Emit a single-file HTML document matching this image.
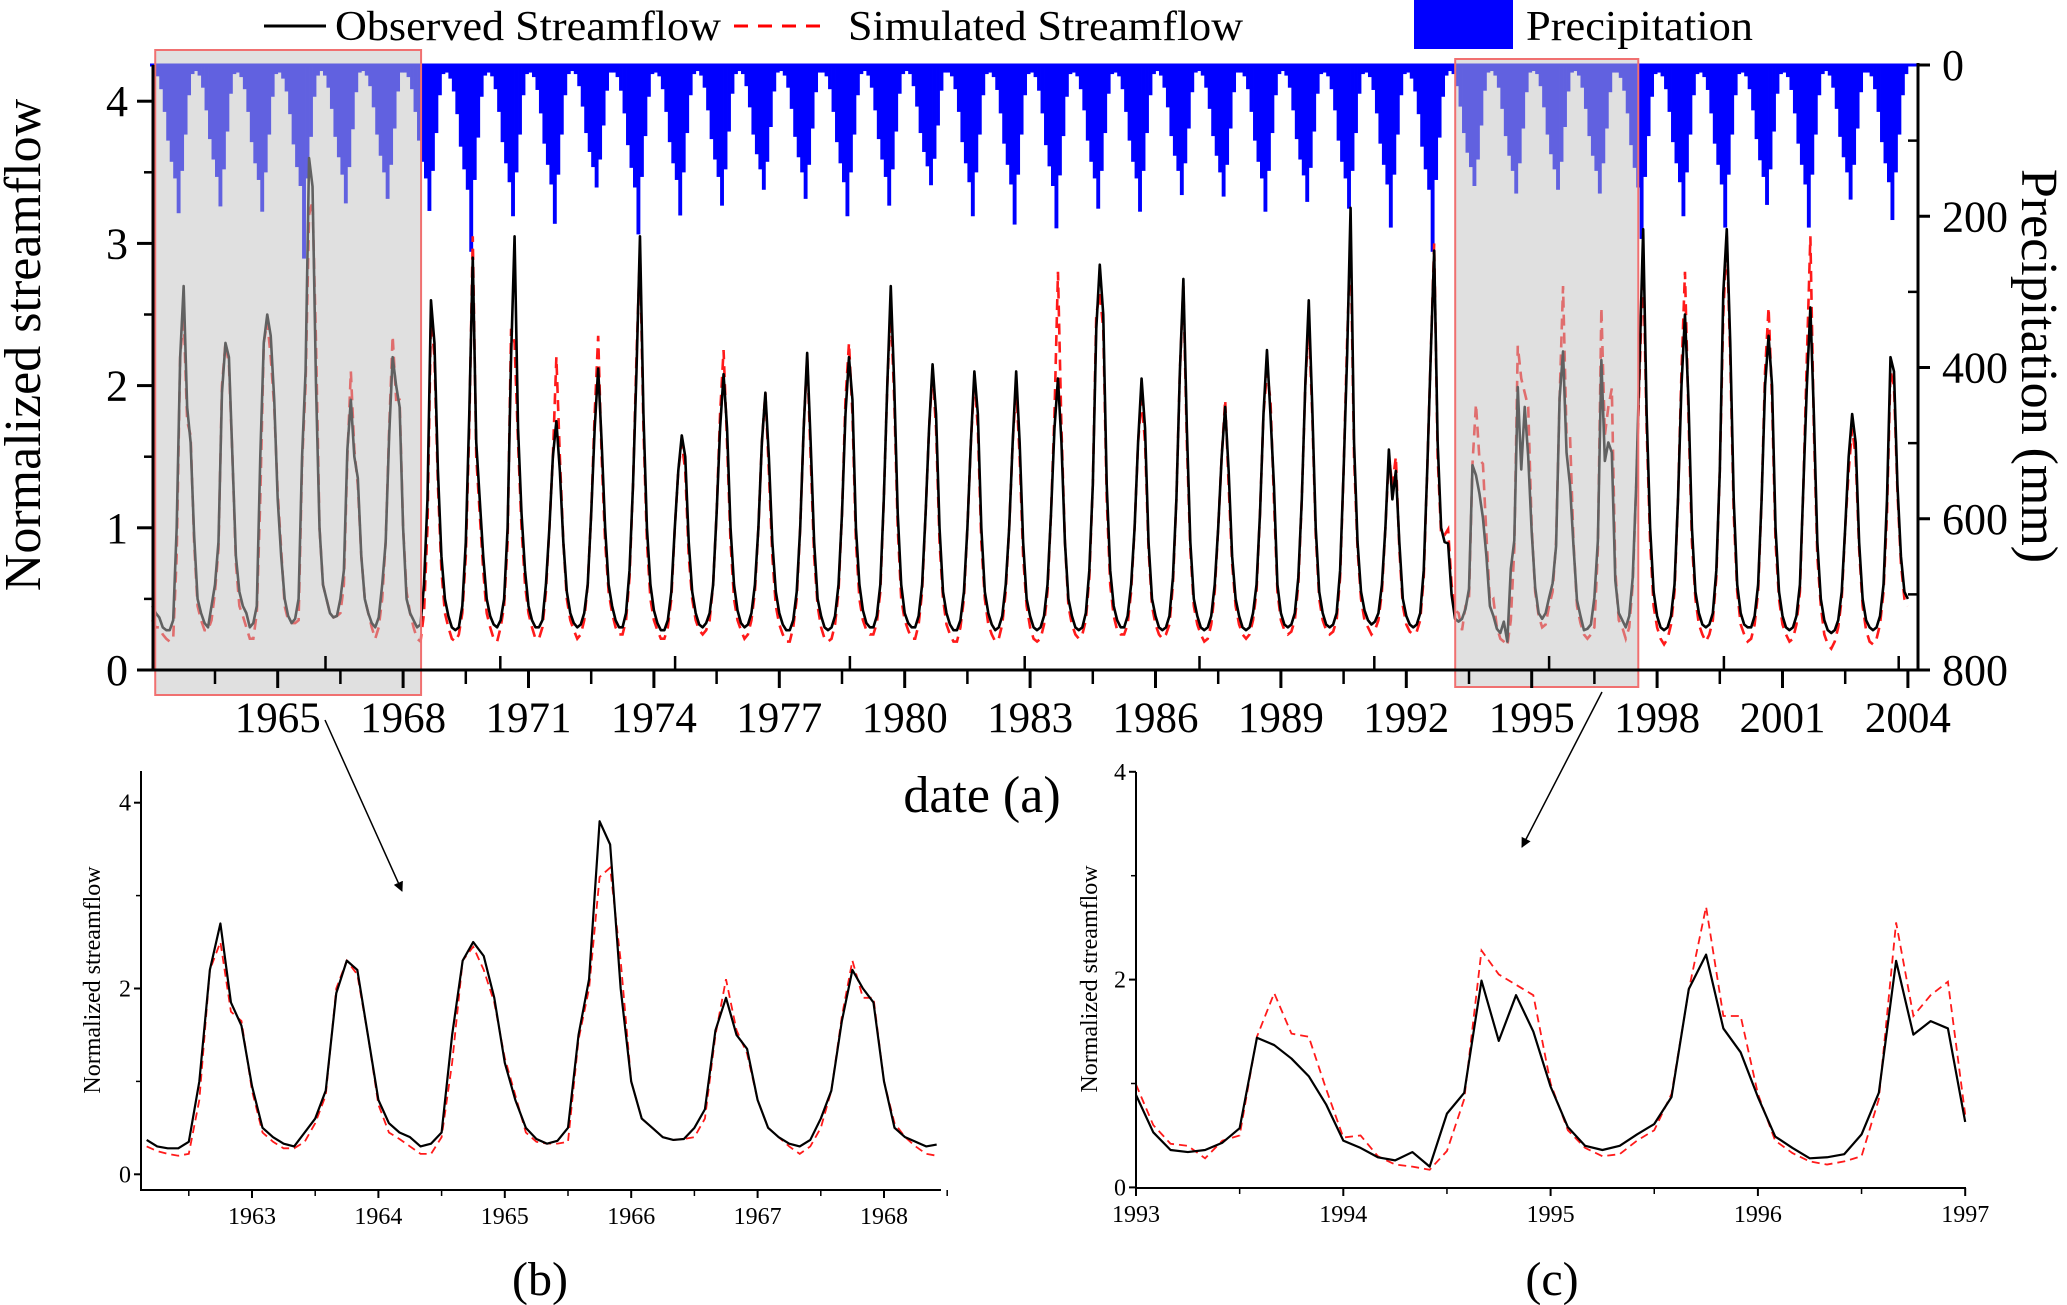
<!DOCTYPE html>
<html><head><meta charset="utf-8">
<style>
html,body{margin:0;padding:0;background:#fff;}
svg{display:block;font-family:"Liberation Serif","DejaVu Serif",serif;}
</style></head>
<body>
<svg id="chart" xmlns="http://www.w3.org/2000/svg" width="2067" height="1305" viewBox="0 0 2067 1305">
  <rect x="0" y="0" width="2067" height="1305" fill="#fff"/>
  <g id="legend">
    <g>
      <line x1="264" y1="26" x2="326" y2="26" stroke="#000" stroke-width="3"/>
      <text x="335" y="40" font-size="42" textLength="386" lengthAdjust="spacingAndGlyphs">Observed Streamflow</text>
    </g>
    <g>
      <line x1="734" y1="26" x2="826" y2="26" stroke="#f00" stroke-width="3" stroke-dasharray="14,10"/>
      <text x="848" y="40" font-size="42" textLength="395" lengthAdjust="spacingAndGlyphs">Simulated Streamflow</text>
    </g>
    <g>
      <rect x="1414" y="0" width="99" height="49" fill="#0000ff"/>
      <text x="1526" y="40" font-size="42" textLength="227" lengthAdjust="spacingAndGlyphs">Precipitation</text>
    </g>
  </g>
  <g id="main"></g>
  <g id="insetB"></g>
  <g id="insetC"></g>
  <text x="982" y="812" font-size="52" text-anchor="middle">date (a)</text>
  <text x="540" y="1295" font-size="48" text-anchor="middle">(b)</text>
  <text x="1552" y="1295" font-size="48" text-anchor="middle">(c)</text>
  <text transform="translate(40,345) rotate(-90)" font-size="52" text-anchor="middle">Normalized streamflow</text>
  <text transform="translate(2022,366) rotate(90)" font-size="52" text-anchor="middle">Precipitation (mm)</text>
  <defs>
    <marker id="arrowhead" markerWidth="10" markerHeight="10" refX="9" refY="5" orient="auto" markerUnits="userSpaceOnUse" viewBox="0 0 10 10">
      <path d="M0,0 L10,5 L0,10 z" fill="#000"/>
    </marker>
  </defs>
  <line x1="325" y1="720" x2="402" y2="891" stroke="#000" stroke-width="1.5" marker-end="url(#arrowhead)"/>
  <line x1="1602" y1="692" x2="1522" y2="847" stroke="#000" stroke-width="1.5" marker-end="url(#arrowhead)"/>
</svg>
<script>
// ===== Main chart data (monthly, Jan 1962 .. Jan 2004) =====
const obsMain = [
.45,.4,.37,.3,.28,.28,.35,1.0,2.2,2.7,1.85,1.6,
.95,.5,.4,.33,.3,.45,.6,.9,1.95,2.3,2.2,1.5,
.8,.55,.45,.4,.3,.33,.45,1.5,2.3,2.5,2.35,1.9,
1.2,.8,.5,.38,.33,.36,.5,1.5,2.1,3.6,3.4,2.0,
1.0,.6,.5,.4,.37,.38,.5,.7,1.55,1.9,1.5,1.35,
.8,.5,.4,.33,.3,.37,.6,.9,1.65,2.2,2.0,1.85,
1.0,.5,.4,.35,.3,.32,.6,1.2,2.6,2.3,1.4,.8,
.5,.38,.3,.28,.3,.45,.9,1.8,2.9,1.6,1.2,.8,
.5,.38,.32,.3,.35,.5,1.0,2.2,3.05,1.7,1.1,.7,
.45,.35,.3,.3,.35,.6,1.0,1.5,1.75,1.4,.9,.55,
.4,.33,.3,.32,.4,.6,1.1,1.7,2.12,1.6,1.0,.6,
.45,.35,.3,.3,.4,.7,1.3,2.1,3.05,1.8,1.0,.6,
.42,.33,.28,.28,.35,.55,1.0,1.4,1.65,1.5,.9,.55,
.4,.32,.3,.33,.4,.6,1.1,1.7,2.08,1.7,1.0,.6,
.42,.33,.3,.32,.4,.6,1.0,1.6,1.95,1.5,.9,.55,
.4,.32,.28,.28,.35,.55,1.0,1.7,2.23,1.6,.9,.5,
.38,.3,.28,.3,.38,.6,1.1,1.8,2.2,1.9,1.0,.6,
.42,.33,.3,.3,.38,.6,1.2,2.0,2.7,2.0,1.1,.6,
.4,.33,.3,.3,.38,.6,1.1,1.7,2.15,1.8,1.0,.55,
.4,.32,.28,.28,.35,.55,1.0,1.6,2.1,1.8,1.0,.55,
.4,.32,.28,.3,.38,.6,1.0,1.6,2.1,1.6,.9,.5,
.38,.3,.28,.3,.38,.6,1.1,1.7,2.05,1.6,.9,.5,
.38,.3,.28,.3,.4,.7,1.3,2.4,2.85,2.5,1.3,.7,
.45,.35,.3,.3,.38,.6,1.0,1.6,2.05,1.7,.9,.5,
.38,.3,.28,.3,.38,.65,1.2,2.1,2.75,1.7,.9,.5,
.38,.3,.28,.3,.38,.6,1.0,1.5,1.85,1.4,.8,.5,
.38,.3,.28,.3,.4,.6,1.1,1.8,2.25,1.8,1.3,.6,
.4,.32,.3,.32,.4,.65,1.2,2.0,2.6,1.85,1.0,.55,
.4,.32,.3,.32,.4,.7,1.4,2.2,3.25,1.6,.9,.55,
.42,.35,.32,.34,.4,.6,1.0,1.55,1.2,1.4,.9,.5,
.38,.32,.3,.32,.4,.7,1.4,2.2,2.95,1.6,1.0,.9,
.89,.53,.36,.34,.36,.43,.57,1.44,1.37,1.24,1.07,.8,
.45,.38,.29,.26,.34,.2,.71,.91,1.99,1.41,1.85,1.5,
.97,.58,.4,.36,.4,.51,.61,.87,1.91,2.24,1.53,1.3,
.87,.49,.38,.28,.29,.32,.51,.91,2.18,1.47,1.6,1.53,
.63,.4,.35,.3,.38,.65,1.3,2.2,3.1,1.8,1.0,.55,
.38,.3,.28,.3,.38,.6,1.2,2.0,2.5,1.9,1.0,.55,
.4,.32,.3,.32,.4,.7,1.4,2.65,3.1,2.3,1.2,.6,
.4,.32,.3,.3,.38,.6,1.2,2.0,2.35,2.0,1.0,.55,
.38,.3,.28,.3,.38,.6,1.3,2.0,2.55,1.8,.9,.5,
.35,.28,.26,.28,.35,.55,1.0,1.5,1.8,1.6,.9,.5,
.35,.3,.28,.3,.38,.6,1.2,2.2,2.1,1.3,.8,.55,
.5];
const simMain = [
.35,.3,.3,.25,.22,.2,.22,.8,2.2,2.5,1.75,1.65,
.9,.45,.35,.28,.28,.35,.55,.85,2.0,2.3,2.15,1.5,
.75,.45,.38,.3,.22,.22,.4,1.2,2.3,2.45,2.2,1.85,
1.25,.85,.45,.35,.33,.33,.35,1.45,2.0,3.2,3.3,2.3,
1.0,.6,.5,.4,.37,.38,.4,.6,1.5,2.1,1.55,1.3,
.8,.5,.4,.3,.22,.3,.5,.9,1.7,2.35,1.9,1.9,
1.0,.55,.4,.3,.22,.2,.4,1.0,2.5,2.2,1.3,.7,
.4,.3,.22,.2,.25,.4,.8,1.7,3.05,1.5,1.1,.7,
.4,.3,.22,.2,.3,.45,.9,2.4,2.3,1.6,1.0,.6,
.4,.3,.22,.22,.3,.55,1.0,1.5,2.2,1.5,.9,.5,
.35,.28,.22,.25,.35,.6,1.1,1.8,2.35,1.5,.9,.55,
.4,.3,.25,.25,.35,.65,1.3,2.2,2.95,1.7,.9,.5,
.35,.28,.22,.22,.3,.5,1.0,1.4,1.6,1.4,.8,.5,
.35,.28,.25,.28,.35,.6,1.1,1.8,2.25,1.6,.9,.5,
.35,.28,.22,.25,.35,.55,1.0,1.6,1.95,1.4,.8,.45,
.32,.25,.2,.2,.3,.5,1.0,1.7,2.2,1.5,.8,.45,
.3,.22,.2,.22,.32,.55,1.1,1.9,2.3,1.8,.9,.5,
.35,.28,.25,.25,.33,.55,1.2,2.0,2.55,1.9,1.0,.5,
.35,.28,.22,.22,.32,.55,1.1,1.7,2.1,1.7,.9,.5,
.32,.25,.2,.2,.3,.5,1.0,1.6,2.05,1.7,.9,.5,
.32,.25,.2,.22,.32,.55,1.0,1.6,2.0,1.5,.8,.45,
.3,.22,.2,.22,.32,.55,1.1,1.8,2.8,1.7,.9,.45,
.32,.25,.22,.25,.35,.65,1.3,2.5,2.65,2.4,1.2,.6,
.38,.28,.25,.25,.32,.55,1.0,1.6,1.9,1.6,.85,.45,
.32,.25,.22,.25,.32,.6,1.2,2.1,2.7,1.6,.85,.45,
.32,.25,.2,.22,.32,.55,1.0,1.5,1.9,1.3,.75,.45,
.32,.25,.22,.25,.35,.55,1.1,1.8,2.1,1.9,1.2,.55,
.35,.28,.25,.27,.35,.6,1.2,2.0,2.45,1.8,.95,.5,
.35,.28,.25,.27,.35,.65,1.4,2.3,3.05,1.5,.85,.5,
.35,.3,.25,.28,.35,.55,1.0,1.5,1.3,1.5,.85,.45,
.32,.27,.25,.27,.35,.65,1.4,2.2,3.0,1.5,.95,.95,
.99,.6,.42,.4,.28,.45,.5,1.45,1.87,1.48,1.45,.95,
.48,.5,.3,.22,.2,.17,.35,.85,2.28,2.05,1.95,1.85,
1.0,.55,.38,.3,.32,.45,.55,.9,1.9,2.7,1.65,1.65,
.9,.45,.33,.25,.22,.25,.3,.85,2.55,1.65,1.85,1.98,
.7,.35,.3,.22,.3,.6,1.3,2.1,2.9,1.7,.9,.45,
.3,.22,.18,.22,.32,.55,1.2,2.1,2.8,1.8,.9,.5,
.32,.25,.2,.25,.35,.65,1.4,2.5,3.05,2.2,1.1,.55,
.32,.25,.2,.22,.32,.55,1.2,2.1,2.55,1.9,.9,.5,
.32,.25,.2,.22,.32,.55,1.3,2.2,3.05,1.7,.8,.45,
.25,.18,.15,.2,.3,.5,1.0,1.4,1.7,1.5,.85,.45,
.28,.2,.18,.22,.32,.55,1.1,2.1,2.0,1.25,.75,.5,
.45];
const precipMain = [
8,15,32,62,100,128,150,196,140,92,40,12,
8,14,30,60,98,125,148,187,138,88,38,12,
10,16,32,62,102,130,152,194,142,92,42,12,
10,18,35,65,105,135,160,256,150,95,42,14,
8,14,30,58,95,122,145,183,135,85,36,10,
8,14,28,56,92,120,142,177,132,84,35,10,
10,16,32,62,100,128,150,193,140,90,40,12,
10,18,35,65,108,138,165,247,152,96,42,14,
10,15,32,62,102,130,155,200,142,92,40,12,
10,16,33,64,104,132,158,210,145,92,40,12,
8,12,28,55,90,115,135,162,125,80,34,10,
10,16,34,64,106,136,162,224,148,94,42,12,
10,15,32,62,102,130,152,199,142,90,40,12,
8,14,30,60,98,125,148,186,138,88,38,12,
8,12,28,56,92,118,138,165,128,82,35,10,
8,14,30,58,95,122,142,177,132,84,36,10,
10,15,32,62,102,130,155,200,142,92,40,12,
8,14,30,60,98,125,148,186,138,88,38,12,
8,12,28,55,90,115,134,159,124,80,34,10,
10,15,32,62,102,130,155,200,142,92,40,12,
10,16,33,64,104,132,158,211,145,92,40,12,
10,16,34,64,106,134,160,216,146,94,42,12,
10,15,32,60,100,128,150,190,140,90,38,12,
10,15,32,62,100,128,150,194,140,90,40,12,
8,14,30,56,94,120,140,172,130,84,36,10,
8,14,30,58,94,120,142,174,132,84,36,10,
10,15,32,62,100,128,150,194,140,90,40,12,
8,14,30,60,98,125,146,181,136,88,38,12,
10,15,32,60,100,128,150,190,140,90,38,12,
10,16,33,64,104,132,158,215,145,92,40,12,
10,18,35,65,108,138,165,247,152,96,42,14,
8,12,28,55,90,116,135,160,125,80,34,10,
8,14,30,58,94,120,140,170,130,84,36,10,
8,12,28,56,92,118,138,165,128,82,35,10,
8,14,30,58,94,120,140,170,130,84,36,10,
10,17,34,64,106,136,162,230,148,94,42,12,
10,15,32,62,102,130,155,200,142,92,40,12,
10,16,33,64,104,132,158,215,145,92,40,12,
10,15,32,60,98,126,148,185,138,88,38,12,
10,16,33,64,104,132,158,215,145,92,40,12,
8,14,30,58,95,122,142,178,132,84,36,10,
10,15,32,62,102,130,155,205,142,92,40,12];
const mainYearTicks = [1965,1968,1971,1974,1977,1980,1983,1986,1989,1992,1995,1998,2001,2004];
const mainYTicks = [0,1,2,3,4];
const precipTicks = [0,200,400,600,800];

// ===== Inset (b): monthly Mar 1962 .. Jun 1968 =====
const obsB = [.37,.3,.28,.28,.35,1.0,2.2,2.7,1.85,1.6,.95,.5,.4,.33,.3,.45,.6,.9,1.95,2.3,2.2,1.5,.8,.55,.45,.4,.3,.33,.45,1.5,2.3,2.5,2.35,1.9,1.2,.8,.5,.38,.33,.36,.5,1.5,2.1,3.8,3.55,2.0,1.0,.6,.5,.4,.37,.38,.5,.7,1.55,1.9,1.5,1.35,.8,.5,.4,.33,.3,.37,.6,.9,1.65,2.2,2.0,1.85,1.0,.5,.4,.35,.3,.32];
const simB = [.3,.25,.22,.2,.22,.8,2.2,2.5,1.75,1.65,.9,.45,.35,.28,.28,.35,.55,.85,2.0,2.3,2.15,1.5,.75,.45,.38,.3,.22,.22,.4,1.2,2.3,2.45,2.2,1.85,1.25,.85,.45,.35,.33,.33,.35,1.45,2.0,3.2,3.3,2.3,1.0,.6,.5,.4,.37,.38,.4,.6,1.5,2.1,1.55,1.3,.8,.5,.4,.3,.22,.3,.5,.9,1.7,2.3,1.9,1.9,1.0,.55,.4,.3,.22,.2];
const bYearTicks = [1963,1964,1965,1966,1967,1968];
const bYTicks = [0,2,4];

// ===== Inset (c): monthly Jan 1993 .. Jan 1997 =====
const obsC = [.89,.53,.36,.34,.36,.43,.57,1.44,1.37,1.24,1.07,.8,.45,.38,.29,.26,.34,.2,.71,.91,1.99,1.41,1.85,1.5,.97,.58,.4,.36,.4,.51,.61,.87,1.91,2.24,1.53,1.3,.87,.49,.38,.28,.29,.32,.51,.91,2.18,1.47,1.6,1.53,.63];
const simC = [.99,.6,.42,.4,.28,.45,.5,1.45,1.87,1.48,1.45,.95,.48,.5,.3,.22,.2,.17,.35,.85,2.28,2.05,1.95,1.85,1.0,.55,.38,.3,.32,.45,.55,.9,1.9,2.7,1.65,1.65,.9,.45,.33,.25,.22,.25,.3,.85,2.55,1.65,1.85,1.98,.7];
const cYearTicks = [1993,1994,1995,1996,1997];
const cYTicks = [0,2,4];

const NS = "http://www.w3.org/2000/svg";
function mk(tag, attrs, parent){
  const e = document.createElementNS(NS, tag);
  for (const k in attrs) e.setAttribute(k, attrs[k]);
  parent.appendChild(e);
  return e;
}
function pathFrom(vals, xf, yf){
  return vals.map((v,i)=>(i?'L':'M')+xf(i).toFixed(2)+','+yf(v).toFixed(2)).join(' ');
}

// ---------- main ----------
(function(){
  const g = document.getElementById('main');
  const X = t => 277.7 + (t-1965)*41.8;
  const Y = v => 670 - 142.2*v;
  const P = mm => 65 + mm*0.75625;
  const mT = i => 1962 + i/12;
  const pg = mk('g', {}, g);
  
  
  precipMain.forEach((mm,i)=>{
    const x0 = X(mT(i)), x1 = X(mT(i+1));
    const r = mk('rect', {x:x0.toFixed(2), y:65, width:(x1-x0+0.4).toFixed(2), height:(P(mm)-65).toFixed(2), fill:'#0000ff'}, pg);
    
    
  });
  const top = mk('line', {x1:150, y1:65, x2:1918, y2:65, stroke:'#0000ff', 'stroke-width':3}, g);
  
  
  const sp = mk('path', {d:pathFrom(simMain, i=>X(mT(i)), Y), fill:'none', stroke:'#ff1a1a', 'stroke-width':2.6, 'stroke-dasharray':'11,7'}, g);
  
  
  const op = mk('path', {d:pathFrom(obsMain, i=>X(mT(i)), Y), fill:'none', stroke:'#000', 'stroke-width':2.6, 'stroke-linejoin':'round'}, g);
  
  
  const hb = [[1962.07,1968.43,50,695],[1993.17,1997.55,59,687]];
  hb.forEach((b,k)=>{
    const r = mk('rect', {x:X(b[0]), y:b[2], width:X(b[1])-X(b[0]), height:b[3]-b[2], fill:'rgb(193,193,193)', 'fill-opacity':0.5, stroke:'#f07070', 'stroke-width':2}, g);
    
    
  });
  const ax = mk('g', {stroke:'#000', 'stroke-width':3}, g);
  
  
  mk('line', {x1:153, y1:65, x2:153, y2:671}, ax);
  mk('line', {x1:146, y1:670, x2:1920, y2:670}, ax);
  mk('line', {x1:1918, y1:63, x2:1918, y2:671}, ax);
  mainYTicks.forEach(v=>{
    mk('line', {x1:137, y1:Y(v), x2:153, y2:Y(v)}, ax);
    if (v<4) mk('line', {x1:144, y1:Y(v+0.5), x2:153, y2:Y(v+0.5), 'stroke-width':2.5}, ax);
    const t = mk('text', {x:128, y:Y(v)+15, 'font-size':44, 'text-anchor':'end', stroke:'none', fill:'#000'}, g);
    t.textContent = v;
    
    
  });
  precipTicks.forEach(mm=>{
    mk('line', {x1:1918, y1:P(mm), x2:1930, y2:P(mm)}, ax);
    if (mm<800) mk('line', {x1:1908, y1:P(mm+100), x2:1918, y2:P(mm+100), 'stroke-width':2.5}, ax);
    const t = mk('text', {x:1942, y:P(mm)+15, 'font-size':44, stroke:'none', fill:'#000'}, g);
    t.textContent = mm;
    
    
  });
  mainYearTicks.forEach(yr=>{
    mk('line', {x1:X(yr), y1:670, x2:X(yr), y2:688}, ax);
    mk('line', {x1:X(yr-1.5), y1:670, x2:X(yr-1.5), y2:684, 'stroke-width':2.5}, ax);
    const t = mk('text', {x:X(yr), y:732, 'font-size':43, 'text-anchor':'middle', stroke:'none', fill:'#000'}, g);
    t.textContent = yr;
    
    
  });
  for (let k=0;k<10;k++){
    const x = 325.5 + k*174.8;
    mk('line', {x1:x, y1:670, x2:x, y2:656, 'stroke-width':2.5}, ax);
  }
})();

// ---------- insets ----------
function inset(gid, o){
  const g = document.getElementById(gid);
  const X = t => o.x0 + (t-o.y0)*o.pxYear;
  const Y = v => o.zeroY - o.unit*v;
  const T = i => o.start + i/12;
  const sp = mk('path', {d:pathFrom(o.sim, i=>X(T(i)), Y), fill:'none', stroke:'#ff1a1a', 'stroke-width':1.8, 'stroke-dasharray':'8,5'}, g);
  
  
  const op = mk('path', {d:pathFrom(o.obs, i=>X(T(i)), Y), fill:'none', stroke:'#000', 'stroke-width':2.2, 'stroke-linejoin':'round'}, g);
  
  
  const ax = mk('g', {stroke:'#000', 'stroke-width':2}, g);
  
  
  mk('line', {x1:o.axL, y1:o.axTop, x2:o.axL, y2:o.axB+1}, ax);
  mk('line', {x1:o.axL-1, y1:o.axB, x2:o.axR, y2:o.axB}, ax);
  o.yTicks.forEach(v=>{
    mk('line', {x1:o.axL-7, y1:Y(v), x2:o.axL, y2:Y(v)}, ax);
    if (v<4) mk('line', {x1:o.axL-5, y1:Y(v+1), x2:o.axL, y2:Y(v+1), 'stroke-width':1.5}, ax);
    const t = mk('text', {x:o.axL-10, y:Y(v)+8, 'font-size':24, 'text-anchor':'end', stroke:'none', fill:'#000'}, g);
    t.textContent = v;
    
    
  });
  o.xTicks.forEach(yr=>{
    mk('line', {x1:X(yr), y1:o.axB, x2:X(yr), y2:o.axB+8}, ax);
    const h = X(yr-0.5);
    if (h > o.axL+2) mk('line', {x1:h, y1:o.axB, x2:h, y2:o.axB+6, 'stroke-width':1.5}, ax);
    const t = mk('text', {x:X(yr), y:o.axB+34, 'font-size':24, 'text-anchor':'middle', stroke:'none', fill:'#000'}, g);
    t.textContent = yr;
    
    
  });
  if (o.extraHalf){ const h = X(o.extraHalf); mk('line', {x1:h, y1:o.axB, x2:h, y2:o.axB+6, 'stroke-width':1.5}, ax); }
  const yl = mk('text', {transform:'translate('+o.ylX+','+o.ylY+') rotate(-90)', 'font-size':24, 'text-anchor':'middle', fill:'#000'}, g);
  yl.textContent = 'Normalized streamflow';
  
  
}
inset('insetB', {obs:obsB, sim:simB, start:1962+2/12, x0:252, y0:1963, pxYear:126.4, zeroY:1174.3, unit:92.9,
  axL:141, axR:941, axTop:771, axB:1190, yTicks:bYTicks, xTicks:bYearTicks, extraHalf:1968.5, ylX:100, ylY:980});
inset('insetC', {obs:obsC, sim:simC, start:1993, x0:1136, y0:1993, pxYear:207.3, zeroY:1187.4, unit:103.9,
  axL:1136, axR:1966, axTop:772, axB:1188, yTicks:cYTicks, xTicks:cYearTicks, ylX:1097, ylY:979});
</script>
</body></html>
